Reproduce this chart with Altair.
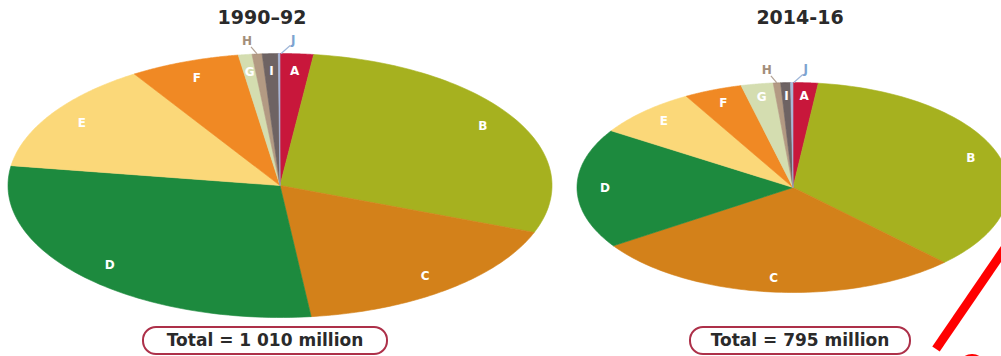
import altair as alt
import pandas as pd

labels = ["A", "B", "C", "D", "E", "F", "G", "H", "I", "J"]
values_1990 = [20.0, 291.2, 175.7, 295.4, 137.5, 66.1, 8.2, 6.0, 9.6, 1.0]
values_2014 = [14.7, 281.4, 220.0, 145.1, 60.5, 34.3, 18.9, 4.3, 5.8, 1.4]
colors = ["#c8173b", "#a6b11f", "#d3811a", "#1d8a3e", "#fbd879",
          "#f08924", "#d4ddb0", "#b39a83", "#6e6363", "#a9b7d8"]
titles = ["1990–92", "2014-16"]
totals = ["Total = 1 010 million", "Total = 795 million"]
outside = ["H", "J"]

color_scale = alt.Scale(domain=labels, range=colors)
N = 72
FONT = "DejaVu Sans"


def pie_panel(values, title, total, xs, ys, width, title_x, box, text_x, extras=None):
    df = pd.DataFrame({"label": labels, "value": values, "idx": list(range(len(labels)))})
    base = (
        alt.Chart(df)
        .transform_window(cum="sum(value)", sort=[alt.SortField("idx")], frame=[None, 0])
        .transform_joinaggregate(total="sum(value)")
        .transform_calculate(
            a0="2*PI*(datum.cum - datum.value)/datum.total",
            a1="2*PI*datum.cum/datum.total",
            mid="PI*(2*datum.cum - datum.value)/datum.total",
        )
    )
    X = lambda f: alt.X(f, scale=xs, axis=None)
    Y = lambda f: alt.Y(f, scale=ys, axis=None)

    slices = (
        base.transform_calculate(s=f"sequence(0, {N + 2})")
        .transform_flatten(["s"])
        .transform_calculate(
            ang=f"datum.a0 + (datum.a1 - datum.a0) * (datum.s - 1) / {N}",
            px="datum.s == 0 ? 0 : sin(datum.ang)",
            py="datum.s == 0 ? 0 : cos(datum.ang)",
        )
        .mark_line(filled=True, interpolate="linear-closed", strokeWidth=0.6, clip=True)
        .encode(
            x=X("px:Q"),
            y=Y("py:Q"),
            order=alt.Order("s:Q"),
            detail="label:N",
            color=alt.Color("label:N", scale=color_scale, legend=None),
            stroke=alt.Stroke("label:N", scale=color_scale, legend=None),
        )
    )

    not_out = " && ".join(f"datum.label != '{o}'" for o in outside)
    inner = (
        base.transform_filter(not_out)
        .transform_calculate(lx="0.87*sin(datum.mid)", ly="0.87*cos(datum.mid)")
        .mark_text(color="white", font=FONT, fontWeight="bold", fontSize=12, baseline="middle")
        .encode(x=X("lx:Q"), y=Y("ly:Q"), text="label:N")
    )

    edge = base.transform_calculate(ex="sin(datum.mid)", ey="cos(datum.mid)")
    h_txt = edge.transform_filter(f"datum.label == '{outside[0]}'").mark_text(
        color="#a38e7a", font=FONT, fontWeight="bold", fontSize=12, baseline="middle", dx=-10, dy=-13
    ).encode(x=X("ex:Q"), y=Y("ey:Q"), text="label:N")
    j_txt = edge.transform_filter(f"datum.label == '{outside[1]}'").mark_text(
        color="#7da3d0", font=FONT, fontWeight="bold", fontSize=12, baseline="middle", dx=14, dy=-14
    ).encode(x=X("ex:Q"), y=Y("ey:Q"), text="label:N")
    h_line = edge.transform_filter(f"datum.label == '{outside[0]}'").mark_rule(
        color="#b3a294", strokeWidth=1.2, x2Offset=-6, y2Offset=-7
    ).encode(x=X("ex:Q"), y=Y("ey:Q"), x2="ex:Q", y2="ey:Q")
    j_line = edge.transform_filter(f"datum.label == '{outside[1]}'").mark_rule(
        color="#9fb6d8", strokeWidth=1.2, xOffset=2, x2Offset=11, y2Offset=-8
    ).encode(x=X("ex:Q"), y=Y("ey:Q"), x2="ex:Q", y2="ey:Q")

    tdf = pd.DataFrame({"t": [title], "total": [total]})
    ttl = alt.Chart(tdf).mark_text(
        font=FONT, fontWeight="bold", fontSize=19, color="#2a2a2a", baseline="middle"
    ).encode(text="t:N", x=alt.value(title_x), y=alt.value(18))
    rect = alt.Chart(tdf).mark_rect(
        cornerRadius=13, fill="white", stroke="#ad3049", strokeWidth=2
    ).encode(x=alt.value(box[0]), x2=alt.value(box[1]), y=alt.value(327), y2=alt.value(354))
    tot = alt.Chart(tdf).mark_text(
        font=FONT, fontWeight="bold", fontSize=17, color="#2a2a2a", baseline="middle"
    ).encode(text="total:N", x=alt.value(text_x), y=alt.value(341))

    layers = [slices, inner, h_line, j_line, h_txt, j_txt, ttl, rect, tot]
    if extras:
        layers += extras
    return alt.layer(*layers).properties(width=width, height=356)


W1 = 565
W2 = 1001 - W1

xs1 = alt.Scale(domain=[-280 / 272, (W1 - 280) / 272], nice=False, zero=False)
ys1 = alt.Scale(domain=[-(356 - 185.5) / 132, 185.5 / 132], nice=False, zero=False)
xs2 = alt.Scale(domain=[(W1 - 793) / 216, (1001 - 793) / 216], nice=False, zero=False)
ys2 = alt.Scale(domain=[-(356 - 187.5) / 105, 187.5 / 105], nice=False, zero=False)

mark_df = pd.DataFrame({"k": [1]})
red_line = alt.Chart(mark_df).mark_rule(
    color="#ff0000", strokeWidth=9, strokeCap="butt", clip=True
).encode(x=alt.value(1012 - W1), y=alt.value(238), x2=alt.value(936 - W1), y2=alt.value(349))
red_blob = alt.Chart(mark_df).mark_arc(
    color="#ff0000", radius=14, radius2=7, theta=5.5, theta2=7.1, clip=True
).encode(x=alt.value(972 - W1), y=alt.value(368))

p1 = pie_panel(values_1990, titles[0], totals[0], xs1, ys1, W1, 262, (143, 387), 265)
p2 = pie_panel(values_2014, titles[1], totals[1], xs2, ys2, W2, 800 - W1,
               (690 - W1, 910 - W1), 800 - W1, extras=[red_line, red_blob])

chart = (
    alt.hconcat(p1, p2, spacing=0)
    .properties(padding=0, background="white")
    .configure_view(stroke=None)
)

chart.save("out.html", embed_options={"renderer": "svg", "actions": False})
